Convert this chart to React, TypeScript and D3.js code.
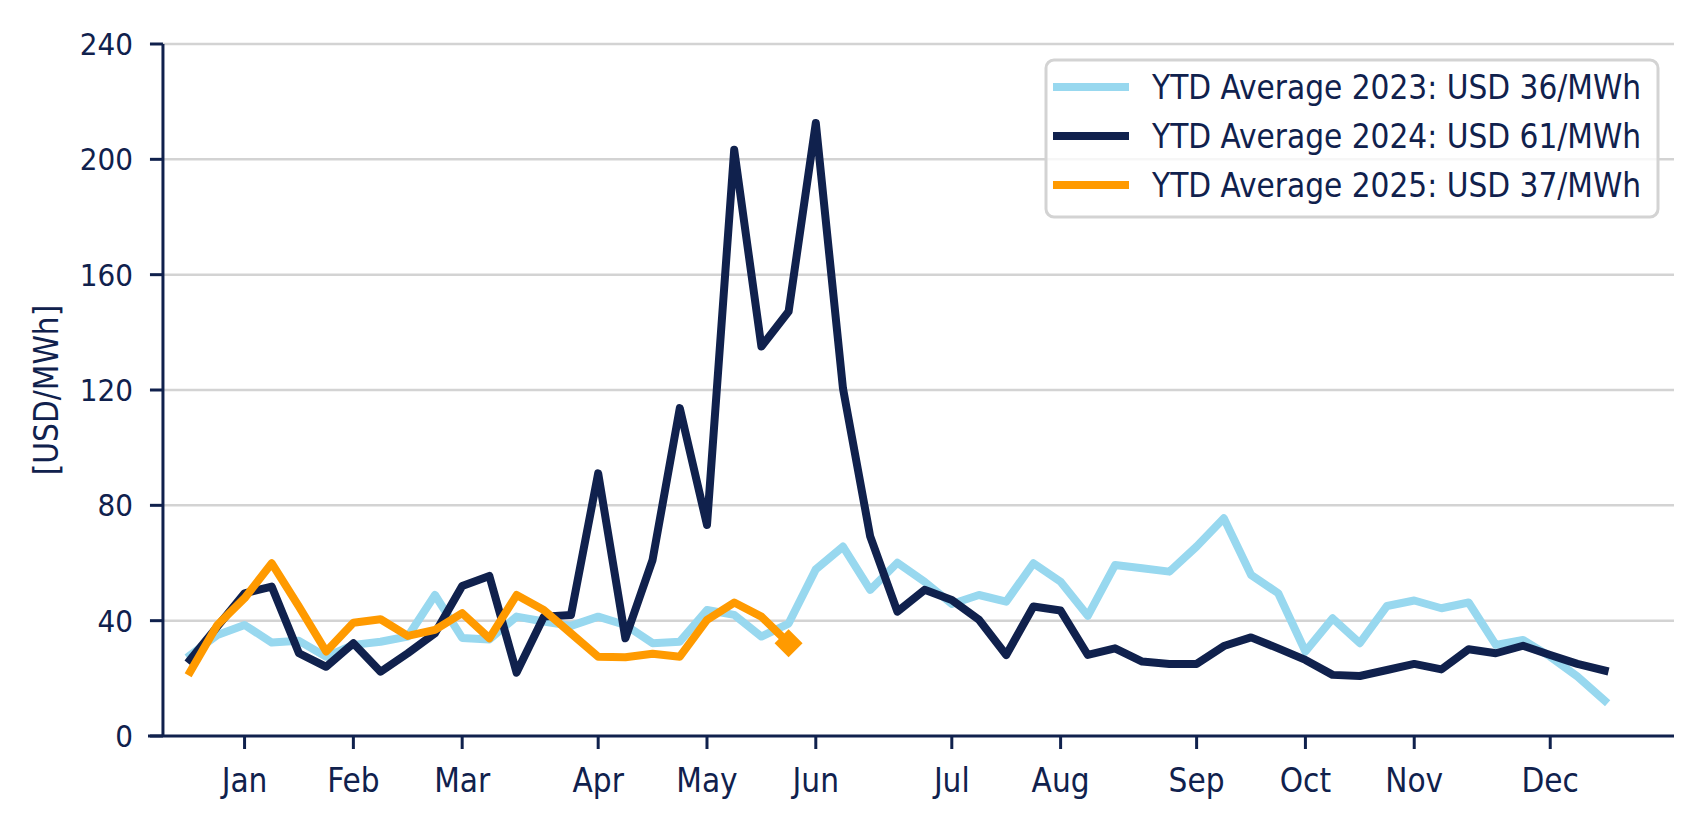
import React from 'react';
import * as d3 from 'd3';

// weekly prices, USD/MWh, week 1 onward
const prices2023 = [
  28, 35, 38.5, 32.4, 33, 27.5, 31.6, 32.7, 34.5, 48.9,
  34, 33.5, 41.4, 39.7, 38.2, 41.4, 38.5, 32.2, 32.7, 43.7,
  42, 34.5, 39, 57.8, 65.7, 50.7, 60.1, 53.5, 45.8, 48.9,
  46.6, 59.9, 53.5, 41.7, 59.3, 58.2, 57, 65.7, 75.5, 55.9,
  49.5, 29.3, 40.8, 32.2, 45.1, 47, 44.3, 46.3, 31.6, 33.3,
  27.5, 20.6, 12.3,
];
const prices2024 = [
  26.4, 38, 49.5, 51.8, 28.7, 24, 32.2, 22.3, 28.7, 35.6,
  52, 55.5, 22, 41.4, 42, 91.1, 33.9, 61.1, 113.7, 73.2,
  203.3, 135.1, 147.2, 212.6, 120.5, 69.2, 43.1, 50.7, 47.2, 40.3,
  28.1, 44.9, 43.5, 28.1, 30.4, 25.8, 25, 25, 31.2, 34.2,
  30.4, 26.4, 21.2, 20.8, 22.9, 25, 23.1, 30.1, 28.7, 31.3,
  28.1, 25, 22.7,
];
const prices2025 = [
  22.3, 38.5, 47.8, 59.9, 44.9, 29.3, 39.3, 40.5, 34.7, 36.8,
  42.6, 33.9, 48.9, 43.7, 35.6, 27.5, 27.3, 28.5, 27.5, 40.3,
  46.3, 41.4, 32.2,
];

const monthLabels = ['Jan', 'Feb', 'Mar', 'Apr', 'May', 'Jun', 'Jul', 'Aug', 'Sep', 'Oct', 'Nov', 'Dec'];
const monthWeeks = [3, 7, 11, 16, 20, 24, 29, 33, 38, 42, 46, 51];
const yTicks = [0, 40, 80, 120, 160, 200, 240];

const legendLabels = [
  'YTD Average 2023: USD 36/MWh',
  'YTD Average 2024: USD 61/MWh',
  'YTD Average 2025: USD 37/MWh',
];

const NAVY = '#10214d';
const BLUE = '#98d8ef';
const ORANGE = '#ff9a00';
const GRID = '#d3d3d3';
const FONT = "'DejaVu Sans Condensed', 'DejaVu Sans', sans-serif";

const App: React.FC = () => {
  const width = 1704;
  const height = 828;

  const x = d3.scaleLinear().domain([-0.55, 55.55]).range([148, 1674]);
  const y = d3.scaleLinear().domain([0, 240]).range([736, 44]);

  const line = d3.line<number>()
    .x((_, i) => x(i + 1))
    .y(d => y(d));

  const series = [
    { values: prices2023, color: BLUE },
    { values: prices2024, color: NAVY },
    { values: prices2025, color: ORANGE },
  ];

  // diamond marker on the latest 2025 week
  const lastIdx = prices2025.length - 1;
  const mx = x(lastIdx + 1);
  const my = y(prices2025[lastIdx]);
  const md = 14;

  const x0 = x(0);
  const [xMin, xMax] = x.range();

  return (
    <svg
      width={width}
      height={height}
      style={{ position: 'absolute', left: 0, top: 0, background: '#fff' }}
      fontFamily={FONT}
    >
      {/* grid */}
      {yTicks.filter(t => t > 0).map(t => (
        <line key={t} x1={x0} x2={xMax} y1={y(t)} y2={y(t)} stroke={GRID} strokeWidth={2.5} />
      ))}

      {/* lines */}
      {series.map((s, i) => (
        <path
          key={i}
          d={line(s.values) ?? ''}
          fill="none"
          stroke={s.color}
          strokeWidth={8}
          strokeLinejoin="round"
          strokeLinecap="square"
        />
      ))}
      <path
        d={`M${mx},${my - md}L${mx + md},${my}L${mx},${my + md}L${mx - md},${my}Z`}
        fill={ORANGE}
      />

      {/* axes */}
      <line x1={xMin} x2={xMax} y1={y(0)} y2={y(0)} stroke={NAVY} strokeWidth={3} />
      <line x1={x0} x2={x0} y1={y(240)} y2={y(0)} stroke={NAVY} strokeWidth={3} />

      {yTicks.map(t => (
        <g key={t}>
          <line x1={x0 - 13} x2={x0} y1={y(t)} y2={y(t)} stroke={NAVY} strokeWidth={3} />
          <text
            x={x0 - 30}
            y={y(t)}
            textAnchor="end"
            dominantBaseline="central"
            fontSize={31}
            fill={NAVY}
          >
            {t}
          </text>
        </g>
      ))}

      {monthWeeks.map((w, i) => (
        <g key={w}>
          <line x1={x(w)} x2={x(w)} y1={y(0)} y2={y(0) + 13} stroke={NAVY} strokeWidth={3} />
          <text
            x={x(w)}
            y={780}
            textAnchor="middle"
            dominantBaseline="central"
            fontSize={33}
            fill={NAVY}
          >
            {monthLabels[i]}
          </text>
        </g>
      ))}

      <text
        transform={`translate(46,${(y(0) + y(240)) / 2}) rotate(-90)`}
        textAnchor="middle"
        dominantBaseline="central"
        fontSize={33}
        fill={NAVY}
      >
        [USD/MWh]
      </text>

      {/* legend */}
      <rect
        x={1046}
        y={60}
        width={612}
        height={157}
        rx={8}
        fill="#fff"
        fillOpacity={0.8}
        stroke={GRID}
        strokeWidth={3}
      />
      {series.map((s, i) => (
        <g key={i} transform={`translate(1053,${87 + i * 49})`}>
          <line x1={0} x2={76} y1={0} y2={0} stroke={s.color} strokeWidth={8} />
          <text x={99} y={0} dominantBaseline="central" fontSize={33} fill={NAVY}>
            {legendLabels[i]}
          </text>
        </g>
      ))}
    </svg>
  );
};

export default App;
